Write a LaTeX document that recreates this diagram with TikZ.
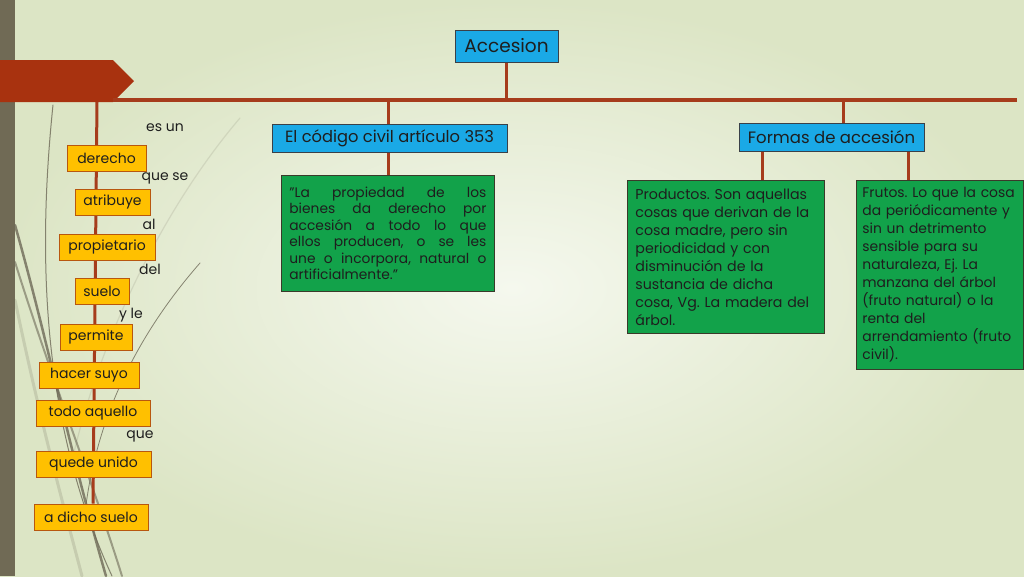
\documentclass[tikz,border=0pt]{standalone}
\usepackage{fontspec}
\setmainfont{Poppins}
\usetikzlibrary{calc}
\definecolor{bgIn}{HTML}{F5F8EE}
\definecolor{bgOut}{HTML}{DCE5C5}
\definecolor{stripC}{HTML}{706A55}
\definecolor{banC}{HTML}{A8320F}
\definecolor{lineC}{HTML}{A63C1C}
\definecolor{oFill}{HTML}{FFC000}
\definecolor{oBord}{HTML}{B8570F}
\definecolor{bFill}{HTML}{1AA9E6}
\definecolor{bBord}{HTML}{3A4048}
\definecolor{gFill}{HTML}{12A24A}
\definecolor{gBord}{HTML}{3A3A2A}
\definecolor{txtC}{HTML}{1E1E1E}
\definecolor{wispC}{HTML}{6E6A58}
\pgfdeclarelayer{back}
\pgfdeclarelayer{bg}
\pgfsetlayers{back,bg,main}
\tikzset{
  obox/.style={draw=oBord, fill=oFill, line width=1pt, minimum height=26pt, inner sep=0pt, text=txtC, font=\fontsize{14}{16}\selectfont},
  lbl/.style={inner sep=0pt, text=txtC, font=\fontsize{14}{16}\selectfont},
  bbox/.style={draw=bBord, fill=bFill, line width=0.8pt, inner sep=0pt, text=txtC},
  gbox/.style={draw=gBord, fill=gFill, line width=0.8pt, anchor=north west, inner xsep=8pt, inner ysep=0pt, text=txtC},
  link/.style={draw=lineC, line width=3pt},
  wisp/.style={draw=wispC, line cap=round}
}
\frenchspacing
\begin{document}
\begin{tikzpicture}[x=1pt,y=-1pt]
\useasboundingbox (0,0) rectangle (1024,576);
\begin{pgfonlayer}{back}
  \shade[inner color=bgIn, outer color=bgOut] (0,0) rectangle (1024,576);
  \fill[stripC] (0,0) rectangle (15,576);
  % decorative wisps
  \draw[wisp, line width=1pt, opacity=0.8] (53,105) .. controls (38,250) and (40,420) .. (112,576);
  \draw[wisp, line width=2.5pt, opacity=0.8] (15,225) .. controls (45,330) and (72,460) .. (106,576);
  \draw[wisp, line width=2pt, opacity=0.6] (15,262) .. controls (52,380) and (92,480) .. (122,576);
  \draw[wisp, line width=3pt, opacity=0.2] (15,300) .. controls (40,420) and (62,500) .. (82,576);
  \draw[wisp, line width=0.8pt, opacity=0.8] (200,263) .. controls (150,320) and (100,400) .. (86,505);
  \draw[wisp, line width=1.2pt, opacity=0.15] (240,118) .. controls (170,200) and (100,330) .. (70,470);
  \fill[banC] (0,60) -- (113,60) -- (134,81) -- (113,102) -- (0,102) -- cycle;
\end{pgfonlayer}

% top node
\node[bbox, minimum width=103pt, minimum height=32pt, font=\fontsize{18.5}{22}\selectfont] (acc) at (506.5,46) {Accesion};

% left chain
\node[obox, minimum width=79pt]  (derecho) at (106.5,158) {derecho};
\node[obox, minimum width=75pt]  (atrib)   at (112.5,202) {atribuye};
\node[obox, minimum width=96pt]  (prop)    at (107,247)   {propietario};
\node[obox, minimum width=54pt]  (suelo)   at (102,291)   {suelo};
\node[obox, minimum width=72pt]  (permite) at (96,337)    {permite};
\node[obox, minimum width=100pt] (hacer)   at (89,375)    {hacer suyo};
\node[obox, minimum width=114pt] (todo)    at (93,413)    {todo aquello};
\node[obox, minimum width=115pt] (quede)   at (93.5,464)  {quede unido};
\node[obox, minimum width=114pt] (dicho)   at (91,517)    {a dicho suelo};

\node[lbl] (l1) at (165,128) {es un};
\node[lbl] (l2) at (165,178) {que se};
\node[lbl] (l3) at (149,224) {al};
\node[lbl] (l4) at (150,269) {del};
\node[lbl] (l5) at (131,315) {y le};
\node[lbl] (l6) at (140,436) {que};

% middle branch
\node[bbox, minimum width=235pt, minimum height=28pt, font=\fontsize{16.3}{19}\selectfont] (cod) at (389.5,138) {El código civil artículo 353};
\node[gbox, text width=197pt, minimum height=116pt, align=justify, font=\fontsize{13.8}{16.4}\selectfont] (g1) at (281,175)
  {"La propiedad de los\linebreak bienes da derecho por\linebreak accesión a todo lo que\linebreak ellos producen, o se les\linebreak une o incorpora, natural o\linebreak artificialmente."};

% right branch
\node[bbox, minimum width=185pt, minimum height=28pt, font=\fontsize{16.5}{19}\selectfont] (form) at (831.5,137) {Formas de accesión};
\node[gbox, text width=181pt, minimum height=153pt, align=left, font=\fontsize{14.2}{18}\selectfont] (g2) at (627,180)
  {Productos. Son aquellas\\cosas que derivan de la\\cosa madre, pero sin\\periodicidad y con\\disminución de la\\sustancia de dicha\\cosa, Vg. La madera del\\árbol.};
\node[gbox, inner xsep=6pt, text width=155pt, minimum height=189pt, align=left, font=\fontsize{13.9}{18}\selectfont] (g3) at (856,180)
  {Frutos. Lo que la cosa\\da periódicamente y\\sin un detrimento\\sensible para su\\naturaleza, Ej. La\\manzana del árbol\\(fruto natural) o la\\renta del\\arrendamiento (fruto\\civil).};

\begin{pgfonlayer}{bg}
  \coordinate (hL) at (113,100);
  \coordinate (hR) at (1017,100);
  \coordinate (vt) at (97,102);
  \draw[link, line width=3.5pt] (hL) -- (hR);
  \draw[link] (vt) -- ([xshift=2pt]dicho.north);
  \draw[link] (acc.south) -- (acc.south |- hL);
  \draw[link] ([xshift=-1.5pt]cod.north) -- ([xshift=-1.5pt]cod.north |- hL);
  \draw[link] ([xshift=-1.5pt]cod.south) -- ([xshift=-1.5pt]cod.south |- g1.north);
  \draw[link] ([xshift=11.5pt]form.north) -- ([xshift=11.5pt]form.north |- hL);
  \coordinate (f1) at ([xshift=24pt]form.south west);
  \coordinate (f2) at ([xshift=-16pt]form.south east);
  \draw[link] (f1) -- (f1 |- g2.north);
  \draw[link] (f2) -- (f2 |- g3.north);
\end{pgfonlayer}
\end{tikzpicture}
\end{document}
